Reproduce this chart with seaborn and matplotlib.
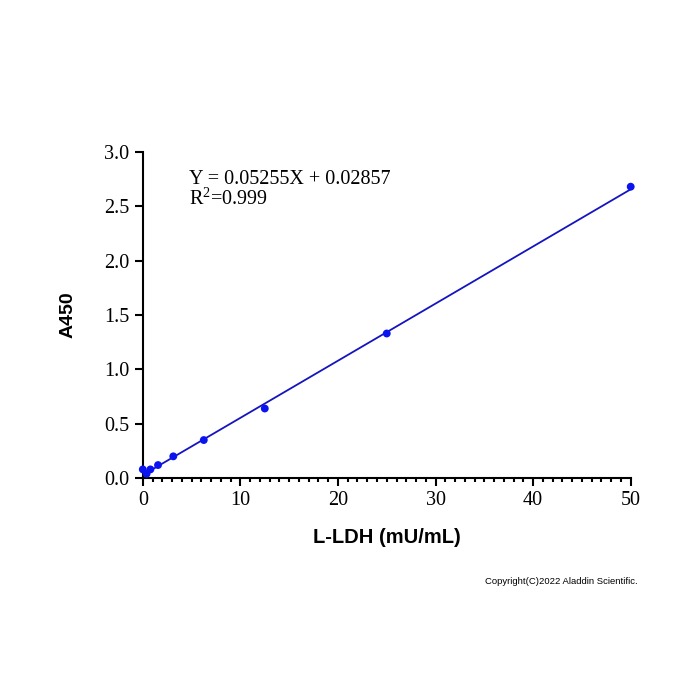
import matplotlib
matplotlib.use("Agg")
import matplotlib.pyplot as plt
from matplotlib.ticker import MultipleLocator
import numpy as np
import pandas as pd
import seaborn as sns

# standard curve data
conc = [0, 0.39, 0.78, 1.56, 3.125, 6.25, 12.5, 25, 50]
a450 = [0.08, 0.04, 0.08, 0.12, 0.20, 0.35, 0.64, 1.33, 2.68]
slope = 0.05255
intercept = 0.02857
r2 = 0.999

df = pd.DataFrame({"conc": conc, "a450": a450})

sns.set_theme(style="ticks")
plt.rcParams["font.family"] = ["Liberation Serif", "DejaVu Serif"]
plt.rcParams["text.color"] = "black"
plt.rcParams["axes.labelcolor"] = "black"
plt.rcParams["mathtext.fontset"] = "custom"
plt.rcParams["mathtext.rm"] = "Liberation Serif"
plt.rcParams["mathtext.it"] = "Liberation Serif"

fig = plt.figure(figsize=(7, 7), dpi=100)
ax = fig.add_axes([0.204, 0.317, 0.697, 0.466])

fit_x = np.array([0, 50])
ax.plot(fit_x, slope * fit_x + intercept, color="#1414c0", lw=1.3, zorder=2)
sns.scatterplot(data=df, x="conc", y="a450", ax=ax, color="#0a14f0",
                s=32, edgecolor="none", zorder=3, clip_on=False)

ax.set_xlim(0, 50)
ax.set_ylim(0, 3.0)
ax.xaxis.set_major_locator(MultipleLocator(10))
ax.xaxis.set_minor_locator(MultipleLocator(1))
ax.yaxis.set_major_locator(MultipleLocator(0.5))
ax.yaxis.set_major_formatter(matplotlib.ticker.FormatStrFormatter("%.1f"))
sns.despine(ax=ax)
for s in ["left", "bottom"]:
    ax.spines[s].set_linewidth(1.5)
    ax.spines[s].set_color("black")
ax.tick_params(axis="both", which="major", length=6, width=1.5,
               labelsize=14.5, color="black", labelcolor="black")
ax.tick_params(axis="x", which="minor", length=3, width=1.5, color="black")

ax.set_xlabel("L-LDH (mU/mL)", fontsize=14.5, fontweight="bold",
              family="Liberation Sans", labelpad=13)
ax.set_ylabel("A450", fontsize=14, fontweight="bold",
              family="Liberation Sans", labelpad=20)

ax.text(0.095, 0.915, f"Y = {slope}X + {intercept}", transform=ax.transAxes,
        fontsize=14.5, va="center", ha="left")
ax.text(0.095, 0.855, r"R$^\mathrm{2}$=" + f"{r2}", transform=ax.transAxes,
        fontsize=14.5, va="center", ha="left")

fig.text(0.911, 0.17, "Copyright(C)2022 Aladdin Scientific.", fontsize=6.8,
         family="Liberation Sans", ha="right", va="center")

fig.savefig("out.png", dpi=100)
